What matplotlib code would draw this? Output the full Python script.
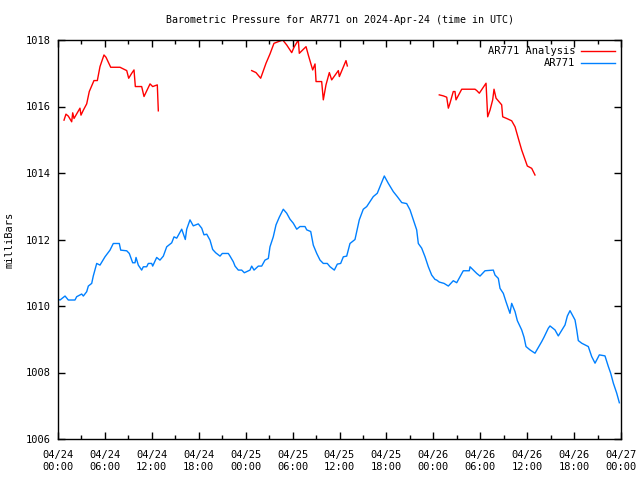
import numpy as np
import matplotlib
matplotlib.use("Agg")
import matplotlib.pyplot as plt

# hours since 04/24 00:00 UTC, pressure in mb
obs_hours = [0, 0.26, 0.90, 1.32, 2.17, 2.39, 3.03, 3.24, 3.67, 3.88, 4.31, 4.51, 4.95, 5.37,
             6.01, 6.65, 7.07, 7.84, 8.02, 8.79, 9.12, 9.55, 9.85, 9.98, 10.27, 10.70, 10.91,
             11.34, 11.55, 11.98, 12.11, 12.62, 13.04, 13.47, 13.90, 14.54, 14.84, 15.18, 15.82,
             16.28, 16.46, 16.88, 17.30, 17.94, 18.38, 18.67, 19.02, 19.44, 19.78, 20.17, 20.72,
             21.01, 21.78, 22.0, 22.42, 22.64, 23.06, 23.49, 23.83, 24.55, 24.77, 25.07, 25.62,
             26.05, 26.47, 26.90, 27.11, 27.53, 27.88, 28.30, 28.81, 29.25, 29.67, 30.09, 30.53,
             30.95, 31.59, 31.81, 32.32, 32.65, 33.09, 33.51, 33.93, 34.44, 34.79, 35.34, 35.72,
             36.15, 36.49, 36.92, 37.34, 37.98, 38.20, 38.53, 39.04, 39.48, 39.90, 40.32, 40.83,
             41.18, 41.73, 42.24, 42.88, 43.39, 43.96, 44.59, 45.02, 45.44, 45.87, 46.08, 46.51,
             46.94, 47.36, 47.79, 48.21, 48.43, 48.76, 49.37, 49.92, 50.55, 50.99, 51.83, 52.60,
             52.69, 53.55, 53.97, 54.61, 55.67, 55.89, 56.31, 56.53, 56.95, 57.29, 57.59, 57.80,
             58.02, 58.45, 58.74, 59.30, 59.60, 59.85, 60.36, 61.00, 61.86, 62.15, 62.70, 62.92,
             63.56, 63.98, 64.84, 65.14, 65.48, 66.12, 66.34, 66.54, 66.98, 67.82, 68.25, 68.68,
             69.23, 69.95, 70.38, 70.68, 71.02, 71.45, 71.79]
obs_mb = [1010.20, 1010.18, 1010.30, 1010.18, 1010.18, 1010.28, 1010.36, 1010.30, 1010.43, 1010.60,
          1010.68, 1010.90, 1011.28, 1011.23, 1011.48, 1011.68, 1011.88, 1011.88, 1011.68, 1011.66,
          1011.58, 1011.30, 1011.30, 1011.46, 1011.23, 1011.08, 1011.18, 1011.18, 1011.28, 1011.28,
          1011.20, 1011.46, 1011.38, 1011.50, 1011.78, 1011.90, 1012.08, 1012.04, 1012.31, 1012.00,
          1012.31, 1012.59, 1012.41, 1012.47, 1012.34, 1012.14, 1012.16, 1011.98, 1011.70, 1011.60,
          1011.50, 1011.58, 1011.58, 1011.50, 1011.33, 1011.20, 1011.08, 1011.08, 1011.00, 1011.08,
          1011.20, 1011.08, 1011.20, 1011.20, 1011.38, 1011.43, 1011.78, 1012.08, 1012.44, 1012.67,
          1012.91, 1012.79, 1012.61, 1012.49, 1012.31, 1012.39, 1012.39, 1012.29, 1012.24, 1011.83,
          1011.58, 1011.38, 1011.28, 1011.28, 1011.18, 1011.08, 1011.26, 1011.28, 1011.48, 1011.50,
          1011.88, 1012.00, 1012.24, 1012.59, 1012.91, 1012.99, 1013.14, 1013.29, 1013.39, 1013.59,
          1013.91, 1013.69, 1013.44, 1013.29, 1013.11, 1013.08, 1012.89, 1012.59, 1012.29, 1011.88,
          1011.74, 1011.48, 1011.18, 1010.93, 1010.80, 1010.78, 1010.72, 1010.68, 1010.60, 1010.76,
          1010.70, 1011.06, 1011.06, 1011.18, 1010.98, 1010.90, 1011.06, 1011.08, 1010.93, 1010.83,
          1010.53, 1010.38, 1010.13, 1009.93, 1009.78, 1010.08, 1009.83, 1009.56, 1009.28, 1009.06,
          1008.78, 1008.68, 1008.58, 1008.93, 1009.06, 1009.33, 1009.40, 1009.28, 1009.10, 1009.43,
          1009.70, 1009.86, 1009.58, 1009.28, 1008.96, 1008.88, 1008.78, 1008.48, 1008.28, 1008.53,
          1008.50, 1008.18, 1007.98, 1007.68, 1007.38, 1007.09]

# analysis series, nan = gap
ana_hours = [0.77, 1.02, 1.32, 1.75, 1.88, 2.05, 2.81, 2.94, 3.24, 3.67, 4.00, 4.60, 5.03, 5.37,
             5.88, 6.14, 6.74, 7.93, 8.44, 8.79, 9.04, 9.43, 9.72, 9.89, 10.49, 10.70, 11.00,
             11.77, 12.11, 12.70, 12.83, np.nan,
             24.77, 25.32, 25.92, 26.60, 27.11, 27.62, 28.17, 28.74, 29.25, 29.89, 30.18, 30.73,
             30.86, 31.72, 32.01, 32.57, 32.87, 33.00, 33.72, 33.93, 34.27, 34.70, 35.00, 35.85,
             35.98, 36.83, 37.00, np.nan,
             48.76, 49.27, 49.71, 49.92, 50.13, 50.55, 50.77, 50.90, 51.63, 53.33, 53.55, 53.88,
             54.74, 54.95, 55.25, 55.59, 55.76, 56.02, 56.74, 56.87, 57.38, 58.02, 58.45, 58.87,
             59.30, 59.72, 60.02, 60.58, 61.00]
ana_mb = [1015.59, 1015.77, 1015.71, 1015.54, 1015.81, 1015.64, 1015.95, 1015.74, 1015.89, 1016.08,
          1016.45, 1016.78, 1016.78, 1017.20, 1017.55, 1017.48, 1017.18, 1017.18, 1017.12, 1017.08,
          1016.85, 1017.00, 1017.10, 1016.60, 1016.60, 1016.60, 1016.30, 1016.68, 1016.60, 1016.65,
          1015.87, np.nan,
          1017.08, 1017.02, 1016.85, 1017.30, 1017.58, 1017.90, 1017.95, 1018.00, 1017.85, 1017.62,
          1017.78, 1018.00, 1017.60, 1017.80, 1017.55, 1017.10, 1017.28, 1016.75, 1016.75, 1016.20,
          1016.65, 1017.02, 1016.80, 1017.08, 1016.90, 1017.38, 1017.22, np.nan,
          1016.35, 1016.32, 1016.28, 1015.95, 1016.10, 1016.45, 1016.45, 1016.20, 1016.52, 1016.52,
          1016.48, 1016.40, 1016.70, 1015.69, 1015.89, 1016.20, 1016.52, 1016.25, 1016.05, 1015.69,
          1015.64, 1015.57, 1015.39, 1015.04, 1014.69, 1014.41, 1014.21, 1014.14, 1013.94]

tick_hours = list(range(0, 73, 6))
tick_labels = ["04/24\n00:00", "04/24\n06:00", "04/24\n12:00", "04/24\n18:00",
               "04/25\n00:00", "04/25\n06:00", "04/25\n12:00", "04/25\n18:00",
               "04/26\n00:00", "04/26\n06:00", "04/26\n12:00", "04/26\n18:00",
               "04/27\n00:00"]

plt.rcParams['font.family'] = 'DejaVu Sans Mono'
plt.rcParams['font.size'] = 7.5

fig = plt.figure(figsize=(6.4, 4.8), dpi=100)
ax = fig.add_axes([58 / 640, 41 / 480, 563 / 640, 399 / 480])

ax.plot(ana_hours, ana_mb, color='#ff0000', lw=1.0, label='AR771 Analysis')
ax.plot(obs_hours, obs_mb, color='#0080ff', lw=1.0, label='AR771')

ax.set_xlim(0, 72)
ax.set_ylim(1006, 1018)
ax.set_xticks(tick_hours)
ax.set_xticklabels(tick_labels)
ax.set_xticks(np.arange(3, 72, 6), minor=True)
ax.set_yticks(np.arange(1006, 1019, 2))
ax.tick_params(which='both', direction='in', top=True, right=True, width=1)
ax.tick_params(which='major', length=5)
ax.tick_params(which='minor', length=3)
ax.tick_params(axis='x', pad=8)
ax.tick_params(axis='y', pad=5)
for s in ax.spines.values():
    s.set_linewidth(1)

ax.set_title('Barometric Pressure for AR771 on 2024-Apr-24 (time in UTC)', fontsize=7.2, pad=12)
ax.set_ylabel('milliBars', labelpad=8)

ax.legend(loc='upper right', frameon=False, markerfirst=False, handlelength=3.2,
          borderaxespad=0.2, labelspacing=0.2, handletextpad=0.6)

fig.savefig('out.png', dpi=100)
